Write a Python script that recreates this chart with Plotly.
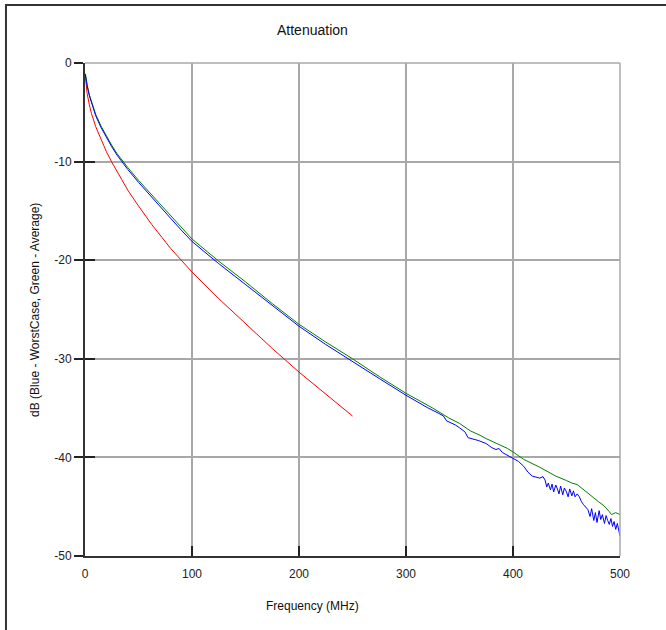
import plotly.graph_objects as go

# Red curve (limit)
red_f = [0.3, 1, 2, 4, 6, 10, 16, 20, 25, 31.25, 40, 50, 62.5, 80, 100, 125, 150, 175, 200, 225, 250]
red_db = [-1.3, -2.2, -3.1, -4.2, -5.1, -6.45, -8.0, -9.0, -10.05, -11.3, -12.9, -14.5, -16.4, -18.8,
          -21.2, -23.9, -26.45, -28.95, -31.35, -33.6, -35.8]

# Green curve (Average)
green_f = [0.3, 1, 2, 4, 6, 10, 15, 20, 25, 30, 35, 40, 50, 60, 70, 80, 90, 100, 125, 150, 175, 200,
           225, 250, 275, 300, 325, 340, 350, 360, 370, 375, 385, 395, 400, 410, 425, 440, 450, 455,
           460, 465, 470, 475, 480, 485, 488, 490, 492, 494, 496, 498, 500]
green_db = [-1.1, -1.6, -2.2, -3.2, -3.9, -5.2, -6.4, -7.4, -8.35, -9.2, -9.95, -10.6, -11.9, -13.1,
            -14.3, -15.5, -16.7, -17.85, -20.1, -22.2, -24.4, -26.5, -28.3, -30.0, -31.8, -33.5,
            -35.0, -36.0, -36.55, -37.3, -37.8, -38.1, -38.6, -39.1, -39.45, -40.2, -41.0, -41.9,
            -42.35, -42.6, -42.75, -43.2, -43.7, -44.1, -44.5, -44.9, -45.2, -45.5, -45.8, -45.7,
            -45.6, -45.7, -45.8]

# Blue curve (WorstCase)
blue_f = [0.3, 1, 2, 4, 6, 10, 15, 20, 25, 30, 35, 40, 50, 60, 70, 80, 90, 100, 125, 150, 175, 200,
          225, 250, 275, 300, 310, 320, 330, 335, 338, 342, 346, 350, 355, 358, 362, 368, 375, 380,
          384, 387, 390, 395, 400, 405, 410, 414, 418, 422, 425, 428, 430,
          431.5, 433, 435, 436.5, 438, 440, 441.5, 443, 444.5, 446.5, 448, 450, 451.5, 453, 455,
          456.5, 458, 460, 462, 464, 466, 468, 470, 472, 473.5, 475.5, 477, 478.5, 480.5, 482,
          483.5, 485.5, 487, 488.5, 490, 491.5, 493, 494.5, 496, 497.5, 499, 500]
blue_db = [-1.1, -1.7, -2.3, -3.3, -4.0, -5.35, -6.55, -7.55, -8.5, -9.35, -10.1, -10.8, -12.1, -13.35,
           -14.55, -15.75, -16.95, -18.1, -20.35, -22.45, -24.6, -26.7, -28.55, -30.3, -32.0, -33.7,
           -34.35, -34.95, -35.5, -35.8, -36.3, -36.5, -36.7, -37.0, -37.4, -38.0, -38.1, -38.3,
           -38.6, -39.0, -39.2, -39.1, -39.5, -39.8, -40.05, -40.4, -40.9, -41.5, -41.9, -42.0,
           -42.1, -41.95, -42.3,
           -43.0, -42.6, -43.3, -42.7, -43.5, -42.8, -43.2, -43.7, -42.9, -43.8, -43.1, -43.5, -44.0,
           -43.2, -43.9, -43.4, -44.0, -43.7, -44.0, -44.5, -44.8, -45.1, -45.3, -46.0, -45.2, -46.4,
           -45.6, -46.6, -45.4, -46.3, -45.8, -46.7, -45.9, -46.4, -46.8, -46.2, -47.0, -46.5, -47.3,
           -46.7, -47.6, -48.0]

x_ticks = [0, 100, 200, 300, 400, 500]
y_ticks = [0, -10, -20, -30, -40, -50]
y_tick_text = ["0", "-10", "-20", "-30", "-40", "-50"]

FONT = "Liberation Sans, Arial, sans-serif"

fig = go.Figure()
fig.add_trace(go.Scatter(x=red_f, y=red_db, mode="lines", line=dict(color="#ff0000", width=1), showlegend=False))
fig.add_trace(go.Scatter(x=green_f, y=green_db, mode="lines", line=dict(color="#008000", width=1), showlegend=False))
fig.add_trace(go.Scatter(x=blue_f, y=blue_db, mode="lines", line=dict(color="#0000ff", width=1), showlegend=False))

fig.update_layout(
    width=666, height=630,
    margin=dict(l=85, r=46, t=63, b=74),
    paper_bgcolor="white", plot_bgcolor="white",
    font=dict(family=FONT, size=12, color="#222222"),
    xaxis=dict(range=[0, 500], tickvals=x_ticks, showgrid=True, gridcolor="#a8a8a8", gridwidth=1.5,
               zeroline=False, showline=True, linecolor="#333333", linewidth=2,
               ticks="inside", ticklen=10, tickwidth=1.5, tickcolor="#222222",
               ticklabelstandoff=6, mirror=False),
    yaxis=dict(range=[-50, 0], tickvals=y_ticks, ticktext=y_tick_text, showgrid=True,
               gridcolor="#a8a8a8", gridwidth=1.5,
               zeroline=False, showline=True, linecolor="#333333", linewidth=2,
               ticks="outside", ticklen=9, tickwidth=1.5, tickcolor="#222222", ticklabelstandoff=0),
    yaxis2=dict(range=[-50, 0], tickvals=y_ticks, overlaying="y", side="left", anchor="x",
                showgrid=False, zeroline=False, showline=False, showticklabels=False,
                ticks="inside", ticklen=10, tickwidth=1.5, tickcolor="#222222"),
    shapes=[
        dict(type="line", xref="paper", yref="paper", x0=-0.1495, x1=1.09, y0=1.1176, y1=1.1176,
             line=dict(color="#333333", width=2)),
        dict(type="line", xref="paper", yref="paper", x0=-0.1477, x1=-0.1477, y0=1.1176, y1=-0.16,
             line=dict(color="#333333", width=2)),
        dict(type="line", xref="paper", yref="paper", x0=0, x1=1, y0=1, y1=1,
             line=dict(color="#a8a8a8", width=1.5)),
        dict(type="line", xref="paper", yref="paper", x0=1, x1=1, y0=0, y1=1,
             line=dict(color="#a8a8a8", width=1.5)),
    ],
    annotations=[
        dict(text="Attenuation", xref="paper", yref="paper", x=0.4243, y=1.067, showarrow=False,
             xanchor="center", yanchor="middle", font=dict(size=14, family=FONT, color="#111111")),
        dict(text="Frequency (MHz)", xref="paper", yref="paper", x=0.4243, y=-0.1014, showarrow=False,
             xanchor="center", yanchor="middle", font=dict(size=12, family=FONT, color="#111111")),
        dict(text="dB (Blue - WorstCase, Green - Average)", xref="paper", yref="paper", x=-0.0935, y=0.499,
             textangle=-90, showarrow=False, xanchor="center", yanchor="middle",
             font=dict(size=12, family=FONT, color="#111111")),
    ],
)
# invisible helper trace so the overlay axis (cross ticks) renders
fig.add_trace(go.Scatter(x=[0], y=[0], yaxis="y2", mode="markers", marker=dict(opacity=0),
                         showlegend=False, hoverinfo="skip"))

fig.write_html("out.html", config={"displayModeBar": False},
               post_script="document.body.style.margin='0px';")
